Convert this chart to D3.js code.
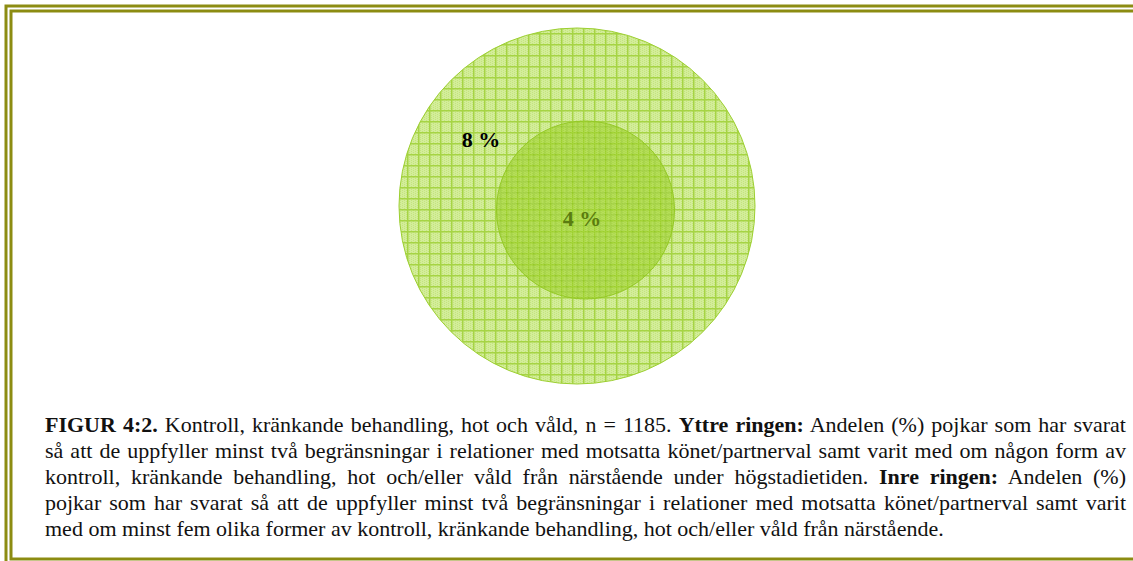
<!DOCTYPE html>
<html>
<head>
<meta charset="utf-8"/>
<title>Figur 4:2</title>
<script src="https://d3js.org/d3.v7.min.js"></script>
<style>
    body { margin: 0; background: #fff; }
    svg { display: block; }
    .caption { font-family: "Liberation Serif", "Times New Roman", serif; font-size: 22px; fill: #111; }
    .ring-label { font-family: "Liberation Serif", "Times New Roman", serif; font-size: 22px; font-weight: bold; }
</style>
</head>
<body>
<div id="chart"></div>
<script>
// ring values (percent)
var rings = ["Yttre ringen", "Inre ringen"];
var values = [8, 4];
var labels = ["8 %", "4 %"];

// caption lines, [text, bold] segments
var captionLines = [
    [["FIGUR 4:2.", true], [" Kontroll, kränkande behandling, hot och våld, n = 1185. ", false], ["Yttre ringen:", true], [" Andelen (%) pojkar som har svarat", false]],
    [["så att de uppfyller minst två begränsningar i relationer med motsatta könet/partnerval samt varit med om någon form av", false]],
    [["kontroll, kränkande behandling, hot och/eller våld från närstående under högstadietiden. ", false], ["Inre ringen:", true], [" Andelen (%)", false]],
    [["pojkar som har svarat så att de uppfyller minst två begränsningar i relationer med motsatta könet/partnerval samt varit", false]],
    [["med om minst fem olika former av kontroll, kränkande behandling, hot och/eller våld från närstående.", false]]
];

var width = 1133, height = 561;

// layout
var centers = [[577, 206], [585.5, 210]];
var labelPos = [[481, 147], [582, 226]];
var fills = [
    {base: "#d3ed9a", dots: "#c4e47e", line: "#a6d444", stroke: "#9ccf30", opacity: 1},
    {base: "#a3d433", dots: "#98cc22", line: "#8cc31a", stroke: "#94c925", opacity: 0.62}
];
var labelColors = ["#000", "#5a7c10"];

var svg = d3.select("#chart").append("svg")
    .attr("width", width)
    .attr("height", height);

var defs = svg.append("defs");

fills.forEach(function(f, i){
    var p = defs.append("pattern")
        .attr("id", "grid" + i)
        .attr("patternUnits", "userSpaceOnUse")
        .attr("width", 11)
        .attr("height", 11)
        .attr("x", i * 5)
        .attr("y", i * 5);
    p.append("rect").attr("width", 11).attr("height", 11).attr("fill", f.base);
    for (var a = 0; a < 11; a += 2) {
        for (var b = (a / 2) % 2; b < 11; b += 2) {
            p.append("rect").attr("x", a).attr("y", b).attr("width", 1).attr("height", 1).attr("fill", f.dots);
        }
    }
    p.append("rect").attr("x", 0).attr("y", 0).attr("width", 11).attr("height", 1.5).attr("fill", f.line);
    p.append("rect").attr("x", 0).attr("y", 0).attr("width", 1.5).attr("height", 11).attr("fill", f.line);
});

// frame
var frameColor = "#8c8c12";
svg.append("rect")
    .attr("x", 6).attr("y", 6)
    .attr("width", width + 20).attr("height", height + 20)
    .attr("fill", "none").attr("stroke", frameColor).attr("stroke-width", 3);
svg.append("rect")
    .attr("x", 11).attr("y", 11)
    .attr("width", width + 20).attr("height", 548)
    .attr("fill", "none").attr("stroke", frameColor).attr("stroke-width", 3);

var r = d3.scaleLinear()
    .domain([0, d3.max(values)])
    .range([0, 178]);

svg.selectAll(".ring")
    .data(values)
    .enter()
    .append("circle")
    .attr("class", "ring")
    .attr("cx", function(d, i){ return centers[i][0]; })
    .attr("cy", function(d, i){ return centers[i][1]; })
    .attr("r", function(d){ return r(d); })
    .attr("fill", function(d, i){ return "url(#grid" + i + ")"; })
    .attr("fill-opacity", function(d, i){ return fills[i].opacity; })
    .attr("stroke", function(d, i){ return fills[i].stroke; })
    .attr("stroke-width", 1);

svg.selectAll(".ring-label")
    .data(labels)
    .enter()
    .append("text")
    .attr("class", "ring-label")
    .attr("x", function(d, i){ return labelPos[i][0]; })
    .attr("y", function(d, i){ return labelPos[i][1]; })
    .attr("text-anchor", "middle")
    .attr("fill", function(d, i){ return labelColors[i]; })
    .text(function(d){ return d; });

// caption, justified except last line
var capLeft = 45, capRight = 1126, capTop = 432, lineH = 26;
var cap = svg.append("g").attr("class", "caption");
captionLines.forEach(function(line, li){
    var t = cap.append("text")
        .attr("x", capLeft)
        .attr("y", capTop + li * lineH)
        .attr("xml:space", "preserve");
    line.forEach(function(seg){
        t.append("tspan")
            .attr("font-weight", seg[1] ? "bold" : "normal")
            .text(seg[0]);
    });
    if (li < captionLines.length - 1) {
        var natural = t.node().getComputedTextLength();
        var spaces = line.map(function(s){ return s[0]; }).join("").split(" ").length - 1;
        var extra = (capRight - capLeft - natural) / spaces;
        t.attr("word-spacing", extra);
    }
});
</script>
</body>
</html>
